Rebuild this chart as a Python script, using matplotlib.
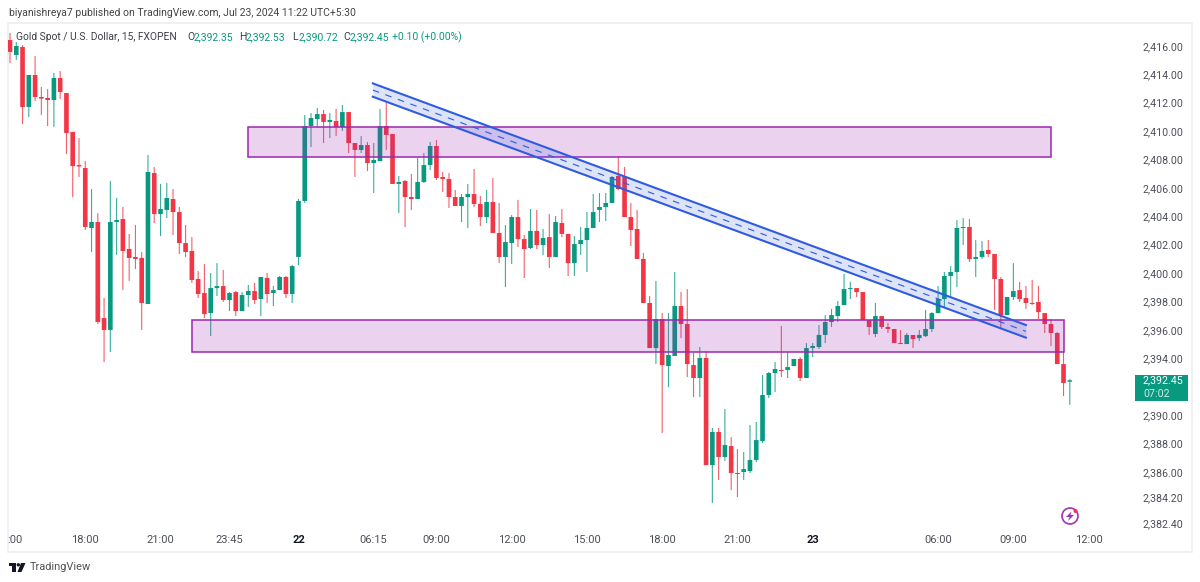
import matplotlib.pyplot as plt
from matplotlib.patches import Circle, Polygon, Rectangle
from matplotlib.ticker import FixedLocator

plt.rcParams['font.family'] = ['Roboto', 'DejaVu Sans']

# 15 minute XAUUSD bars
opens = [
    2416.40, 2415.35, 2415.91, 2411.69, 2413.94, 2412.39, 2412.32, 2412.18, 2413.73, 2412.67,
    2409.93, 2407.60, 2407.39, 2403.17, 2403.59, 2396.83, 2395.99, 2403.59, 2403.80, 2401.69,
    2401.13, 2401.06, 2397.82, 2407.04, 2404.15, 2404.44, 2405.21, 2404.29, 2402.11, 2401.55,
    2399.58, 2398.59, 2397.18, 2398.94, 2399.08, 2398.10, 2398.66, 2397.32, 2398.45, 2398.73,
    2398.17, 2399.65, 2398.59, 2398.80, 2399.72, 2398.52, 2401.13, 2405.07, 2410.35, 2410.84,
    2411.19, 2410.63, 2410.70, 2410.28, 2411.33, 2409.15, 2408.66, 2409.01, 2407.74, 2407.88,
    2410.35, 2409.79, 2406.27, 2406.48, 2405.35, 2405.21, 2406.41, 2407.60, 2408.94, 2406.76,
    2406.62, 2405.35, 2404.72, 2405.35, 2405.56, 2404.86, 2403.94, 2405.00, 2402.82, 2401.13,
    2402.11, 2403.94, 2402.39, 2401.76, 2402.96, 2401.97, 2402.53, 2401.13, 2403.52, 2402.75,
    2400.70, 2402.04, 2402.32, 2403.17, 2404.44, 2404.65, 2404.93, 2406.83, 2406.76, 2403.94,
    2403.10, 2400.99, 2397.89, 2394.72, 2396.76, 2393.45, 2394.16, 2397.68, 2396.41, 2393.52,
    2392.61, 2394.02, 2386.48, 2388.81, 2387.05, 2387.82, 2385.92, 2385.99, 2386.06, 2386.84,
    2388.17, 2391.41, 2392.96, 2393.17, 2393.17, 2393.45, 2393.95, 2392.61, 2394.72, 2394.79,
    2395.64, 2396.55, 2396.97, 2397.75, 2398.87, 2398.94, 2398.66, 2396.69, 2395.71, 2396.97,
    2396.20, 2396.06, 2395.07, 2395.00, 2395.64, 2395.42, 2395.56, 2396.06, 2397.18, 2398.17,
    2399.79, 2400.07, 2403.17, 2403.24, 2400.99, 2401.13, 2401.62, 2401.34, 2399.58, 2397.04,
    2398.31, 2398.80, 2398.24, 2397.89, 2397.96, 2397.18, 2396.41, 2395.78, 2393.59, 2392.35,
]
highs = [
    2416.90, 2416.26, 2416.05, 2413.94, 2415.28, 2413.09, 2412.95, 2414.08, 2414.22, 2412.67,
    2409.93, 2409.50, 2407.88, 2405.91, 2404.22, 2398.24, 2406.48, 2405.28, 2404.65, 2402.75,
    2403.38, 2401.48, 2408.31, 2407.46, 2406.27, 2406.34, 2405.91, 2404.65, 2403.38, 2402.53,
    2400.14, 2400.63, 2400.00, 2400.70, 2400.21, 2398.66, 2398.73, 2398.66, 2399.16, 2399.30,
    2399.72, 2400.00, 2399.08, 2399.79, 2399.79, 2400.56, 2405.21, 2411.12, 2411.26, 2411.62,
    2411.48, 2411.26, 2411.55, 2411.83, 2411.33, 2409.15, 2409.64, 2409.22, 2409.15, 2411.55,
    2411.97, 2409.79, 2406.83, 2406.55, 2406.97, 2408.10, 2408.45, 2409.22, 2409.36, 2407.11,
    2407.04, 2405.84, 2405.56, 2406.27, 2407.32, 2405.42, 2405.84, 2406.69, 2404.93, 2403.38,
    2404.08, 2405.14, 2402.68, 2404.51, 2404.44, 2403.10, 2404.15, 2404.01, 2404.51, 2402.75,
    2402.60, 2403.24, 2404.29, 2405.56, 2405.63, 2405.63, 2406.83, 2408.17, 2407.46, 2404.93,
    2404.44, 2401.41, 2398.38, 2399.44, 2397.18, 2397.18, 2400.07, 2398.66, 2398.87, 2394.37,
    2394.79, 2394.51, 2389.09, 2389.09, 2390.43, 2388.45, 2387.61, 2387.40, 2389.30, 2389.51,
    2392.82, 2393.03, 2393.73, 2396.27, 2394.44, 2393.95, 2394.09, 2395.07, 2395.07, 2396.34,
    2397.04, 2397.47, 2398.03, 2399.93, 2399.37, 2398.94, 2398.66, 2396.69, 2397.89, 2396.97,
    2396.48, 2396.06, 2395.99, 2395.78, 2395.64, 2395.99, 2397.40, 2397.25, 2399.08, 2400.07,
    2400.49, 2403.73, 2403.87, 2403.80, 2402.32, 2402.25, 2402.32, 2401.34, 2399.72, 2398.31,
    2400.70, 2399.37, 2399.08, 2399.51, 2399.08, 2397.18, 2396.76, 2395.85, 2394.44, 2392.53,
]
lows = [
    2414.78, 2415.00, 2410.49, 2410.98, 2412.11, 2411.12, 2410.35, 2410.28, 2412.25, 2408.38,
    2405.35, 2406.76, 2403.03, 2401.48, 2396.41, 2393.73, 2394.44, 2401.27, 2398.80, 2399.44,
    2400.28, 2395.99, 2397.82, 2403.52, 2402.60, 2403.87, 2402.68, 2401.34, 2401.13, 2399.30,
    2398.24, 2396.83, 2395.56, 2398.38, 2397.96, 2397.32, 2396.97, 2397.32, 2397.61, 2397.82,
    2396.97, 2397.89, 2397.68, 2398.80, 2398.24, 2397.89, 2400.56, 2404.93, 2408.87, 2410.28,
    2409.15, 2409.50, 2409.64, 2410.00, 2408.45, 2406.76, 2408.45, 2407.18, 2405.63, 2407.88,
    2408.66, 2406.27, 2404.22, 2403.24, 2404.44, 2405.21, 2406.34, 2407.25, 2406.55, 2405.70,
    2404.58, 2404.72, 2403.59, 2403.17, 2404.65, 2403.31, 2403.52, 2402.82, 2400.70, 2399.01,
    2400.63, 2401.83, 2399.65, 2401.69, 2401.69, 2401.27, 2400.35, 2401.13, 2402.53, 2399.79,
    2399.79, 2401.27, 2400.07, 2403.17, 2403.59, 2403.66, 2404.93, 2405.84, 2403.94, 2401.90,
    2400.99, 2397.89, 2394.72, 2393.59, 2388.74, 2391.97, 2394.16, 2395.42, 2392.68, 2391.27,
    2391.27, 2386.48, 2383.81, 2385.43, 2386.76, 2384.72, 2384.23, 2385.43, 2385.92, 2386.69,
    2388.03, 2391.20, 2391.62, 2392.68, 2392.61, 2393.45, 2392.40, 2392.61, 2394.09, 2394.65,
    2395.07, 2396.20, 2396.55, 2397.75, 2398.17, 2398.31, 2396.69, 2395.64, 2395.49, 2396.06,
    2395.78, 2395.07, 2395.00, 2395.00, 2394.72, 2395.21, 2395.49, 2395.85, 2397.18, 2397.54,
    2398.24, 2399.01, 2401.97, 2400.77, 2399.72, 2400.99, 2401.13, 2397.40, 2396.13, 2397.04,
    2398.10, 2397.96, 2397.47, 2397.75, 2396.76, 2395.78, 2394.86, 2393.59, 2391.34, 2390.72,
]
closes = [
    2415.56, 2415.98, 2411.69, 2413.94, 2412.39, 2412.28, 2412.18, 2413.73, 2412.74, 2409.86,
    2407.53, 2407.50, 2403.24, 2403.59, 2396.55, 2395.99, 2403.59, 2403.73, 2401.55, 2401.06,
    2400.99, 2397.89, 2407.11, 2404.15, 2404.51, 2405.28, 2404.29, 2402.11, 2401.48, 2399.51,
    2398.52, 2397.11, 2398.94, 2399.08, 2398.10, 2398.59, 2397.32, 2398.45, 2398.73, 2398.10,
    2399.72, 2398.52, 2398.80, 2399.72, 2398.52, 2400.49, 2405.07, 2410.35, 2410.91, 2411.19,
    2410.63, 2410.77, 2410.28, 2411.33, 2409.15, 2408.66, 2409.01, 2407.74, 2407.96, 2410.35,
    2409.72, 2406.27, 2406.41, 2405.35, 2405.21, 2406.41, 2407.60, 2408.94, 2406.69, 2406.62,
    2405.35, 2404.72, 2405.35, 2405.56, 2404.86, 2403.94, 2405.00, 2402.82, 2401.13, 2402.18,
    2403.94, 2402.39, 2401.69, 2402.96, 2401.97, 2402.46, 2401.13, 2403.59, 2402.75, 2400.70,
    2402.04, 2402.32, 2403.17, 2404.29, 2404.65, 2404.93, 2406.76, 2405.91, 2403.94, 2403.03,
    2400.99, 2397.89, 2394.72, 2396.76, 2393.52, 2394.23, 2397.68, 2396.41, 2393.59, 2392.61,
    2394.02, 2386.48, 2388.81, 2387.05, 2387.89, 2385.92, 2385.85, 2386.20, 2386.84, 2388.24,
    2391.41, 2392.96, 2393.24, 2393.10, 2393.38, 2393.95, 2392.61, 2394.72, 2394.86, 2395.64,
    2396.55, 2397.04, 2397.68, 2398.87, 2398.94, 2398.66, 2396.69, 2396.20, 2396.97, 2396.20,
    2396.06, 2395.07, 2395.00, 2395.64, 2395.35, 2395.64, 2396.06, 2397.18, 2398.17, 2399.79,
    2400.07, 2403.17, 2403.24, 2400.99, 2401.13, 2401.55, 2401.34, 2399.58, 2397.04, 2398.31,
    2398.73, 2398.17, 2397.89, 2397.82, 2397.25, 2396.41, 2395.78, 2393.59, 2392.26, 2392.45,
]

price_ticks = [2416, 2414, 2412, 2410, 2408, 2406, 2404, 2402, 2400, 2398, 2396, 2394,
               2390, 2388, 2386, 2384.2, 2382.4]
time_ticks = [0.8, 12, 24, 35, 46, 58, 68, 80, 92, 104, 116, 128, 148, 160, 172]
time_labels = [':00', '18:00', '21:00', '23:45', '22', '06:15', '09:00', '12:00', '15:00',
               '18:00', '21:00', '23', '06:00', '09:00', '12:00']
bold_labels = ['22', '23']

# (first bar, last bar, top price, bottom price)
zones = [(38, 166, 2410.28, 2408.17), (29, 168, 2396.69, 2394.44)]

# falling channel: start bar, end bar, upper and lower prices at each end
channel_bars = [57.85, 162]
channel_upper = [2413.35, 2396.34]
channel_lower = [2412.41, 2395.45]

GREEN = '#089981'
RED = '#f23645'
PURPLE = '#9c27b0'
BLUE = '#2f5be0'
GREY = '#4c4f57'

fig = plt.figure(figsize=(12, 5.82), dpi=100, facecolor='white')

# page furniture is laid out in pixels on an axes that fills the figure
page = fig.add_axes([0, 0, 1, 1], zorder=0)
page.set_xlim(0, 1200)
page.set_ylim(582, 0)
page.axis('off')

ax = fig.add_axes([8 / 1200, 1 - 530 / 582, 1122 / 1200, 507 / 582], zorder=1)
ax.patch.set_visible(False)
ax.set_xlim(-0.32, 178.6)
ax.set_ylim(2381.91, 2417.60)

xs = list(range(len(opens)))
colors = [GREEN if c >= o else RED for o, c in zip(opens, closes)]

wicks = ax.vlines(xs, lows, highs, colors=colors, linewidth=0.8, alpha=0.8, zorder=2)
wicks.set_snap(False)
bottoms = [min(o, c) for o, c in zip(opens, closes)]
heights = [max(abs(c - o), 0.07) for o, c in zip(opens, closes)]
bodies = ax.bar(xs, heights, bottom=bottoms, width=0.74, color=colors, linewidth=0, zorder=3)
for body in bodies:
    body.set_snap(False)

for first, last, top, bottom in zones:
    ax.add_patch(Rectangle((first, bottom), last - first, top - bottom,
                           facecolor=(0.61, 0.15, 0.69, 0.2), edgecolor=PURPLE,
                           linewidth=1.1, zorder=4))

ax.fill_between(channel_bars, channel_lower, channel_upper, color=BLUE, alpha=0.16,
                linewidth=0, zorder=5)
ax.plot(channel_bars, channel_upper, color=BLUE, linewidth=1.5, zorder=6)
ax.plot(channel_bars, channel_lower, color=BLUE, linewidth=1.5, zorder=6)
channel_mid = [(u + l) / 2 for u, l in zip(channel_upper, channel_lower)]
ax.plot(channel_bars, channel_mid, color=BLUE, linewidth=0.8, linestyle=(0, (6, 6)), zorder=6)

for side in ax.spines.values():
    side.set_visible(False)
ax.yaxis.tick_right()
ax.yaxis.set_major_locator(FixedLocator(price_ticks))
ax.set_yticklabels([f'{p:,.2f}' for p in price_ticks])
ax.set_xticks(time_ticks)
ax.set_xticklabels(time_labels)
ax.tick_params(axis='y', length=0, pad=9, labelsize=7.7, labelcolor=GREY)
ax.tick_params(axis='x', length=0, pad=3.5, labelsize=8, labelcolor=GREY)
for label in ax.get_xticklabels():
    if label.get_text() in bold_labels:
        label.set_fontweight('bold')
        label.set_color('#131722')

# last price tag sits on the price scale
tag = ax.get_yaxis_transform()
ax.add_patch(Rectangle((1.0045, closes[-1] - 1.48), 0.0475, 1.83, transform=tag,
                       facecolor=GREEN, edgecolor='none', clip_on=False, zorder=7))
ax.text(1.0115, closes[-1], f'{closes[-1]:,.2f}', transform=tag, color='white', fontsize=7.7,
        va='center', clip_on=False, zorder=8)
ax.text(1.0115, closes[-1] - 0.95, '07:02', transform=tag, color='#c8ece5', fontsize=7.7,
        va='center', clip_on=False, zorder=8)

page.add_patch(Rectangle((8, 23), 1184, 529, facecolor='white', edgecolor='#eceef2', linewidth=1.2))
page.text(9, 13, 'biyanishreya7 published on TradingView.com, Jul 23, 2024 11:22 UTC+5:30',
          fontsize=7.5, color='#444444', va='center')

legend_y = 37
page.text(16, legend_y, 'Gold Spot / U.S. Dollar, 15, FXOPEN', fontsize=7.4, color='#3a3d45', va='center')
ohlc_x = [(187, 'O', opens[-1]), (239.5, 'H', highs[-1]), (292, 'L', lows[-1]), (343, 'C', closes[-1])]
for x, letter, value in ohlc_x:
    page.text(x, legend_y, letter, fontsize=7.5, color='#3a3d45', va='center')
    page.text(x + 6.5, legend_y, f'{value:,.2f}', fontsize=7.5, color=GREEN, va='center')
page.text(392.5, legend_y, '+0.10 (+0.00%)', fontsize=7.5, color=GREEN, va='center')

# lightning badge
page.add_patch(Circle((1070, 516), 8, facecolor='white', edgecolor='#a033b8', linewidth=1.2))
page.add_patch(Polygon([(1071.5, 511.5), (1066, 517), (1069.5, 517), (1068, 521), (1074, 515),
                        (1070.5, 515)], facecolor='#a033b8', edgecolor='none'))
page.add_patch(Circle((1075.5, 511), 2, facecolor=RED, edgecolor='none'))

# TradingView mark and wordmark
page.add_patch(Polygon([(9, 563), (16, 563), (16, 572), (12.3, 572), (12.3, 566.3), (9, 566.3)],
                       facecolor='#131722', edgecolor='none'))
page.add_patch(Circle((18.3, 564.8), 1.7, facecolor='#131722', edgecolor='none'))
page.add_patch(Polygon([(21, 563), (25.5, 563), (21.5, 572), (17.5, 572)], facecolor='#131722',
                       edgecolor='none'))
page.text(30, 567.5, 'TradingView', fontsize=7.9, color='#555555', va='center')

fig.savefig('out.png', dpi=100)
